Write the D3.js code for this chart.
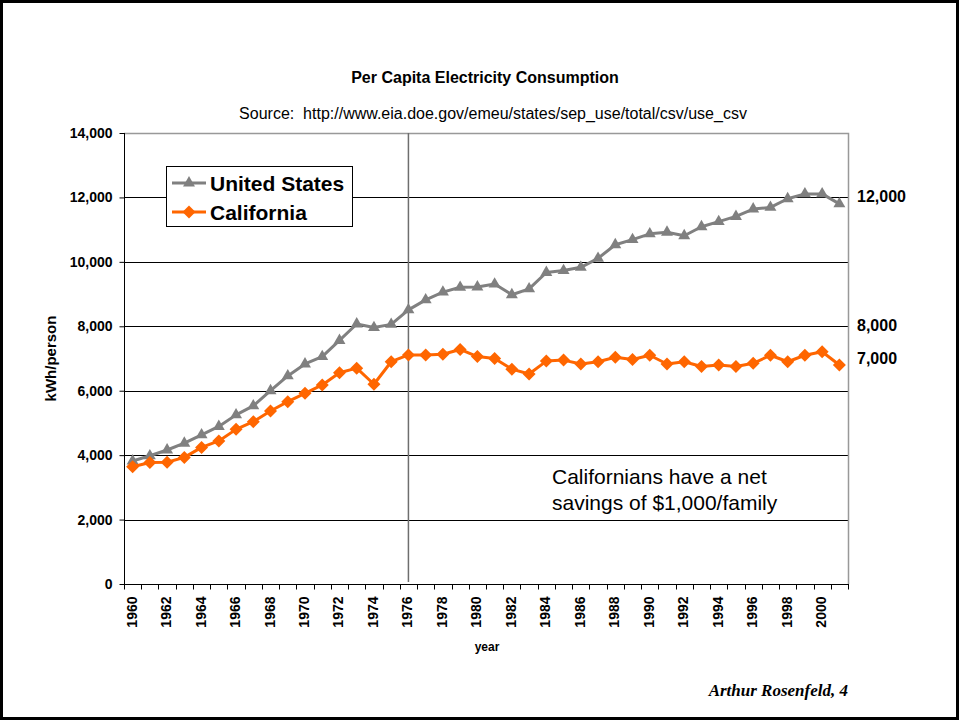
<!DOCTYPE html>
<html>
<head>
<meta charset="utf-8">
<script src="https://cdn.jsdelivr.net/npm/d3@7"></script>
<style>
  body { margin: 0; background: #fff; }
  svg { display: block; font-family: "Liberation Sans", Arial, sans-serif; }
</style>
</head>
<body>
<svg id="chart" width="960" height="721"></svg>
<script>
// years on the category axis
const years = d3.range(1960, 2002);

// kWh per person
const usValues = [
  3820, 3980, 4160, 4370, 4630, 4890, 5250, 5530, 6000, 6460,
  6830, 7060, 7560, 8070, 7960, 8060, 8510, 8820, 9060, 9210,
  9220, 9310, 8980, 9160, 9670, 9730, 9830, 10110, 10530, 10690,
  10870, 10920, 10810, 11090, 11250, 11410, 11640, 11690, 11960, 12110,
  12110, 11800
];
const caValues = [
  3640, 3770, 3780, 3930, 4240, 4440, 4800, 5040, 5370, 5660,
  5920, 6180, 6560, 6700, 6200, 6900, 7110, 7110, 7130, 7280,
  7060, 7000, 6670, 6520, 6920, 6950, 6830, 6900, 7040, 6970,
  7100, 6830, 6900, 6750, 6800, 6750, 6850, 7100, 6900, 7100,
  7210, 6800
];

const yTicks = [0, 2000, 4000, 6000, 8000, 10000, 12000, 14000];
const xTickLabels = d3.range(1960, 2001, 2);
const rightLabels = [12000, 8000, 7000];
const markerYear = 1976;

const svg = d3.select('#chart');
const plotLeft = 124, plotRight = 848, plotTop = 133, plotBottom = 584;

const x = d3.scaleBand().domain(years).range([plotLeft, plotRight]).padding(0);
const y = d3.scaleLinear().domain([0, 14000]).range([plotBottom, plotTop]);
const cx = (yr) => x(yr) + x.bandwidth() / 2;
const fmt = d3.format(',');

// page frame
svg.append('rect')
    .attr('x', 1.5).attr('y', 1.5).attr('width', 956).attr('height', 717)
    .attr('fill', 'none').attr('stroke', '#000').attr('stroke-width', 3);

// titles
svg.append('text')
    .attr('x', 485).attr('y', 83)
    .attr('text-anchor', 'middle')
    .attr('font-size', 16).attr('font-weight', 'bold')
    .text('Per Capita Electricity Consumption');

svg.append('text')
    .attr('x', 493).attr('y', 119)
    .attr('text-anchor', 'middle')
    .attr('font-size', 16)
    .style('white-space', 'pre')
    .text('Source:  http://www.eia.doe.gov/emeu/states/sep_use/total/csv/use_csv');

// gridlines
svg.append('g')
    .selectAll('line')
    .data(yTicks.filter((d) => d > 0 && d < 14000))
    .enter()
    .append('line')
    .attr('x1', plotLeft).attr('x2', plotRight)
    .attr('y1', (d) => Math.round(y(d)) + 0.5)
    .attr('y2', (d) => Math.round(y(d)) + 0.5)
    .attr('stroke', '#000').attr('stroke-width', 1);

// plot border top / right
svg.append('path')
    .attr('d', `M${plotLeft},${plotTop + 0.5}H${plotRight + 0.5}V${plotBottom}`)
    .attr('fill', 'none').attr('stroke', '#999').attr('stroke-width', 1.5);

// 1976 marker line
svg.append('line')
    .attr('x1', cx(markerYear)).attr('x2', cx(markerYear))
    .attr('y1', plotTop).attr('y2', plotBottom - 2)
    .attr('stroke', '#6e6e6e').attr('stroke-width', 1.5);

// y axis
const yAxis = svg.append('g')
    .attr('transform', `translate(${plotLeft + 0.5},0)`)
    .call(d3.axisLeft(y).tickValues(yTicks).tickFormat(fmt).tickSize(5).tickPadding(7));
yAxis.select('.domain').attr('stroke', '#000').attr('d', `M-0,${plotTop}V${plotBottom}`);
yAxis.selectAll('text')
    .attr('font-size', 14).attr('font-weight', 'bold')
    .attr('font-family', '"Liberation Sans", Arial, sans-serif').attr('fill', '#000');

// x axis: ticks between categories
const xAxis = svg.append('g').attr('transform', `translate(0,${plotBottom + 0.5})`);
xAxis.append('line')
    .attr('x1', plotLeft).attr('x2', plotRight + 1)
    .attr('stroke', '#000');
xAxis.selectAll('line.tk')
    .data(years.concat([2002]))
    .enter()
    .append('line')
    .attr('class', 'tk')
    .attr('x1', (d) => Math.round(d === 2002 ? plotRight : x(d)) + 0.5)
    .attr('x2', (d) => Math.round(d === 2002 ? plotRight : x(d)) + 0.5)
    .attr('y1', 0).attr('y2', 5)
    .attr('stroke', '#000');
xAxis.selectAll('text')
    .data(xTickLabels)
    .enter()
    .append('text')
    .attr('transform', (d) => `translate(${cx(d) + 4},12) rotate(-90)`)
    .attr('text-anchor', 'end')
    .attr('font-size', 14).attr('font-weight', 'bold')
    .text((d) => d);

// axis titles
svg.append('text')
    .attr('x', 487).attr('y', 651)
    .attr('text-anchor', 'middle')
    .attr('font-size', 12).attr('font-weight', 'bold')
    .text('year');

svg.append('text')
    .attr('transform', `translate(56,${(plotTop + plotBottom) / 2}) rotate(-90)`)
    .attr('text-anchor', 'middle')
    .attr('font-size', 15).attr('font-weight', 'bold')
    .text('kWh/person');

// series
const line = (vals) => d3.line()
    .x((d, i) => cx(years[i]))
    .y((d) => y(d))(vals);

const triangle = d3.symbol().type(d3.symbolTriangle).size(62);
const diamond = 'M0,-6.5L6.5,0L0,6.5L-6.5,0Z';

svg.append('path')
    .attr('d', line(usValues))
    .attr('fill', 'none').attr('stroke', '#808080').attr('stroke-width', 3)
    .attr('stroke-linejoin', 'round');
svg.append('g')
    .selectAll('path')
    .data(usValues)
    .enter()
    .append('path')
    .attr('d', triangle)
    .attr('transform', (d, i) => `translate(${cx(years[i])},${y(d)})`)
    .attr('fill', '#808080');

svg.append('path')
    .attr('d', line(caValues))
    .attr('fill', 'none').attr('stroke', '#ff6600').attr('stroke-width', 3)
    .attr('stroke-linejoin', 'round');
svg.append('g')
    .selectAll('path')
    .data(caValues)
    .enter()
    .append('path')
    .attr('d', diamond)
    .attr('transform', (d, i) => `translate(${cx(years[i])},${y(d)})`)
    .attr('fill', '#ff6600');

// right-hand value labels
svg.append('g')
    .selectAll('text')
    .data(rightLabels)
    .enter()
    .append('text')
    .attr('x', 857)
    .attr('y', (d) => y(d) + 5)
    .attr('font-size', 16).attr('font-weight', 'bold')
    .text(fmt);

// legend
const legend = svg.append('g');
legend.append('rect')
    .attr('x', 166.5).attr('y', 166.5).attr('width', 186).attr('height', 60)
    .attr('fill', '#fff').attr('stroke', '#000');
const items = [
  { name: 'United States', color: '#808080', shape: triangle, ly: 183 },
  { name: 'California', color: '#ff6600', shape: diamond, ly: 212 }
];
items.forEach((it) => {
    legend.append('line')
        .attr('x1', 172).attr('x2', 206).attr('y1', it.ly).attr('y2', it.ly)
        .attr('stroke', it.color).attr('stroke-width', 3);
    legend.append('path')
        .attr('d', it.shape)
        .attr('transform', `translate(189,${it.ly})`)
        .attr('fill', it.color);
    legend.append('text')
        .attr('x', 210).attr('y', it.ly + 8)
        .attr('font-size', 21).attr('font-weight', 'bold')
        .text(it.name);
});

// annotation
svg.append('text')
    .attr('x', 552).attr('y', 484)
    .attr('font-size', 21)
    .text('Californians have a net');
svg.append('text')
    .attr('x', 552).attr('y', 510)
    .attr('font-size', 21)
    .text('savings of $1,000/family');

// author
svg.append('text')
    .attr('x', 848).attr('y', 696)
    .attr('text-anchor', 'end')
    .attr('font-family', '"Liberation Serif", "Times New Roman", serif')
    .attr('font-size', 17).attr('font-weight', 'bold').attr('font-style', 'italic')
    .text('Arthur Rosenfeld, 4');
</script>
</body>
</html>
